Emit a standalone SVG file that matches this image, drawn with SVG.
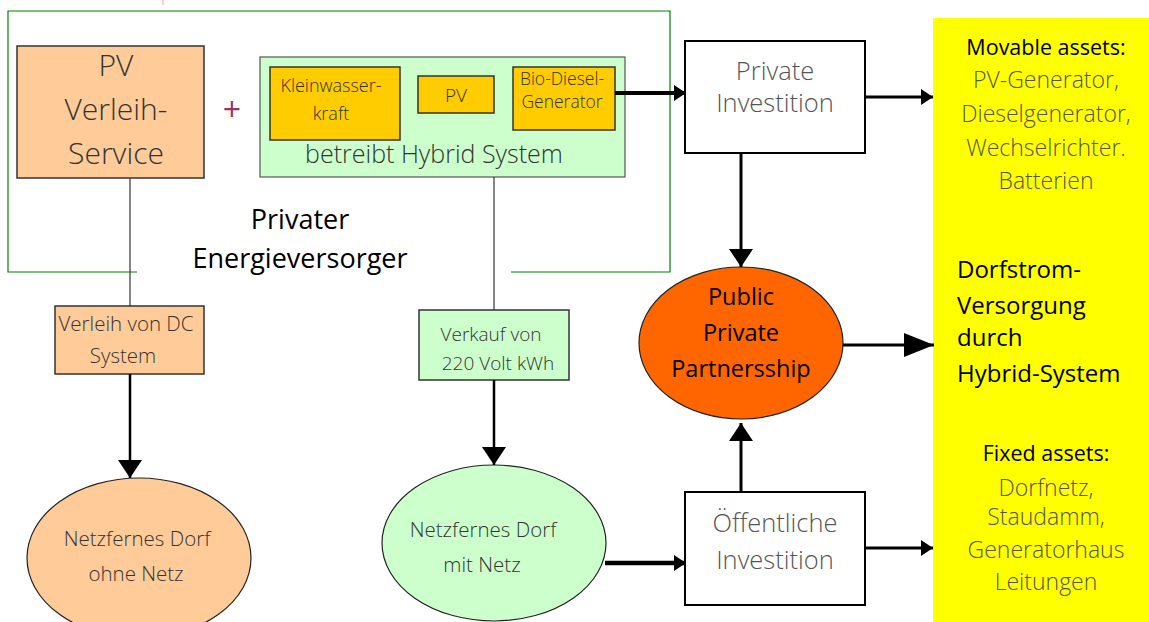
<svg xmlns="http://www.w3.org/2000/svg" width="1149" height="622" viewBox="0 0 1149 622">
<style>
text{font-family:"Open Sans",Lato,"Liberation Sans",sans-serif;text-anchor:middle}
.s{text-anchor:start}
.l{font-weight:300;fill:#333}
.g{font-weight:300;fill:#555}
.b{fill:#000}
.box{stroke:#333;stroke-width:1.5}
.ibox{fill:#fff;stroke:#000;stroke-width:2}
.ln{stroke:#333;stroke-width:1.2;fill:none}
</style>
<defs>
<marker id="ah2" markerWidth="12" markerHeight="16" refX="12" refY="8" orient="auto" markerUnits="userSpaceOnUse" viewBox="0 0 12 16">
<path d="M0,0 L12,8 L0,16 Z" fill="#000"/>
</marker>
<marker id="ah3" markerWidth="30" markerHeight="24" refX="30" refY="12" orient="auto" markerUnits="userSpaceOnUse" viewBox="0 0 30 24">
<path d="M0,0 L30,12 L0,24 Z" fill="#000"/>
</marker>
<marker id="ah4" markerWidth="18" markerHeight="24" refX="18" refY="12" orient="auto" markerUnits="userSpaceOnUse" viewBox="0 0 18 24">
<path d="M0,0 L18,12 L0,24 Z" fill="#000"/>
</marker>
</defs>

<line x1="163" y1="0" x2="163" y2="5" stroke="#e8a0b0" stroke-width="1"/>

<g id="frame">
<path d="M137,272 L8,272 L8,11 L670,11 L670,272 L511,272" fill="none" stroke="#008000" stroke-width="1.2"/>
<text x="300" y="229" class="b" font-size="27">Privater</text>
<text x="300" y="268" class="b" font-size="27">Energieversorger</text>
</g>

<g id="yellow">
<rect x="933" y="18" width="216" height="604" fill="#FFFF00"/>
<text x="1046" y="55" class="b" font-size="21.5">Movable assets:</text>
<text x="1046" y="88" class="g" font-size="23">PV-Generator,</text>
<text x="1046" y="122" class="g" font-size="23">Dieselgenerator,</text>
<text x="1046" y="156" class="g" font-size="23">Wechselrichter.</text>
<text x="1046" y="189" class="g" font-size="23">Batterien</text>
<text x="957" y="278" class="b s" font-size="24">Dorfstrom-</text>
<text x="957" y="314" class="b s" font-size="24">Versorgung</text>
<text x="957" y="346" class="b s" font-size="24">durch</text>
<text x="957" y="382" class="b s" font-size="24">Hybrid-System</text>
<text x="1046" y="461" class="b" font-size="21.5">Fixed assets:</text>
<text x="1046" y="496" class="g" font-size="23">Dorfnetz,</text>
<text x="1046" y="525" class="g" font-size="23">Staudamm,</text>
<text x="1046" y="558" class="g" font-size="23">Generatorhaus</text>
<text x="1046" y="590" class="g" font-size="23">Leitungen</text>
</g>

<g id="pvservice">
<rect x="17" y="46" width="187" height="132" fill="#FFCC99" class="box"/>
<text x="116" y="76" class="l" font-size="30">PV</text>
<text x="116" y="120" class="l" font-size="30">Verleih-</text>
<text x="116" y="164" class="l" font-size="30">Service</text>
</g>

<text x="232" y="121" font-size="32" fill="#993366">+</text>

<g id="hybrid">
<rect x="260" y="57" width="365" height="120" fill="#CCFFCC" stroke="#555" stroke-width="1.2"/>
<rect x="270" y="67" width="130" height="73" fill="#FFCC00" class="box"/>
<text x="331" y="92" class="l" font-size="18">Kleinwasser-</text>
<text x="331" y="120" class="l" font-size="18">kraft</text>
<rect x="418" y="76" width="76" height="37" fill="#FFCC00" class="box"/>
<text x="456" y="102" class="l" font-size="19">PV</text>
<rect x="513" y="67" width="102" height="63" fill="#FFCC00" class="box"/>
<text x="562" y="85" class="l" font-size="17.5">Bio-Diesel-</text>
<text x="562" y="108" class="l" font-size="17.5">Generator</text>
<text x="434" y="163" class="l" font-size="25">betreibt Hybrid System</text>
</g>

<g id="privinv">
<rect x="685" y="41" width="180" height="112" class="ibox"/>
<text x="775" y="80" class="g" font-size="25.5">Private</text>
<text x="775" y="112" class="g" font-size="25.5">Investition</text>
</g>

<g id="ppp">
<ellipse cx="741" cy="343" rx="102" ry="76" fill="#FF6600" stroke="#222" stroke-width="1.2"/>
<text x="741" y="305" class="b" font-size="23.5">Public</text>
<text x="741" y="341" class="b" font-size="23.5">Private</text>
<text x="741" y="377" class="b" font-size="23.5">Partnersship</text>
</g>

<g id="oeffinv">
<rect x="685" y="492" width="180" height="113" class="ibox"/>
<text x="775" y="532" class="g" font-size="25.5">Öffentliche</text>
<text x="775" y="569" class="g" font-size="25.5">Investition</text>
</g>

<g id="verleih">
<rect x="55" y="306" width="149" height="68" fill="#FFCC99" class="box"/>
<text x="126" y="331" class="l" font-size="20.5">Verleih von DC</text>
<text x="123" y="363" class="l" font-size="20.5">System</text>
</g>

<g id="verkauf">
<rect x="419" y="310" width="150" height="70" fill="#CCFFCC" class="box"/>
<text x="491" y="341" class="l" font-size="19">Verkauf von</text>
<text x="498" y="370" class="l" font-size="19">220 Volt kWh</text>
</g>

<g id="dorfohne">
<ellipse cx="139" cy="558" rx="112" ry="80" fill="#FFCC99" stroke="#222" stroke-width="1.2"/>
<text x="137" y="546" class="l" font-size="20.5">Netzfernes Dorf</text>
<text x="136" y="581" class="l" font-size="20.5">ohne Netz</text>
</g>

<g id="dorfmit">
<ellipse cx="494" cy="543" rx="112" ry="78" fill="#CCFFCC" stroke="#222" stroke-width="1.2"/>
<text x="483" y="537" class="l" font-size="20.5">Netzfernes Dorf</text>
<text x="482" y="572" class="l" font-size="20.5">mit Netz</text>
</g>

<g id="connectors">
<line x1="130" y1="178" x2="130" y2="306" class="ln"/>
<line x1="130" y1="374" x2="130" y2="478" stroke="#000" stroke-width="2.5" marker-end="url(#ah4)"/>
<line x1="494" y1="177" x2="494" y2="310" class="ln"/>
<line x1="494" y1="380" x2="494" y2="465" stroke="#000" stroke-width="2.5" marker-end="url(#ah4)"/>
<line x1="615" y1="93" x2="686" y2="93" stroke="#000" stroke-width="4" marker-end="url(#ah2)"/>
<line x1="865" y1="97" x2="933" y2="97" stroke="#000" stroke-width="3" marker-end="url(#ah2)"/>
<line x1="741" y1="153" x2="741" y2="267" stroke="#000" stroke-width="3" marker-end="url(#ah4)"/>
<line x1="843" y1="345" x2="934" y2="345" stroke="#000" stroke-width="3" marker-end="url(#ah3)"/>
<line x1="741" y1="492" x2="741" y2="423" stroke="#000" stroke-width="3" marker-end="url(#ah4)"/>
<line x1="865" y1="548" x2="933" y2="548" stroke="#000" stroke-width="3" marker-end="url(#ah2)"/>
<line x1="605" y1="563" x2="686" y2="563" stroke="#000" stroke-width="4.5" marker-end="url(#ah2)"/>
</g>
</svg>
